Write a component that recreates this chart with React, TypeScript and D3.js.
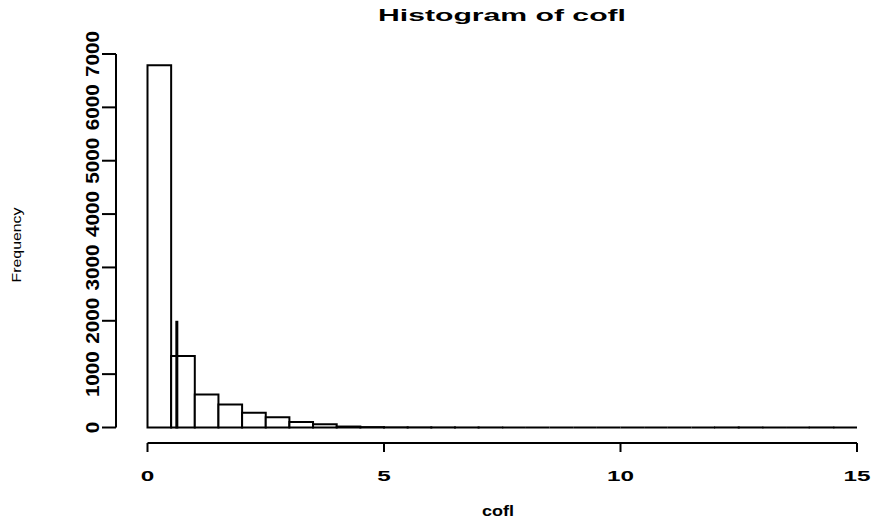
import React from "react";
import * as d3 from "d3";

// Histogram of cofl: bin edges every 0.5 from 0 to 15, counts per bin
const binWidth = 0.5;
const counts = [
  6790, 1340, 620, 430, 275, 190, 105, 62, 18, 8,
  4, 3, 2, 1, 1, 0, 0, 0, 0, 0,
  0, 0, 0, 0, 1, 1, 0, 0, 1, 0,
];
const xTicks = [0, 5, 10, 15];
const yTicks = [0, 1000, 2000, 3000, 4000, 5000, 6000, 7000];
// reference marker drawn over the second bin
const markerX = 0.62;
const markerHeight = 2000;

const title = "Histogram of cofl";
const xLabel = "cofl";
const yLabel = "Frequency";

const W = 874;
const H = 521;
const FONT = "'Liberation Sans', Arial, Helvetica, sans-serif";

export default function App() {
  const x = d3.scaleLinear().domain([0, 15]).range([147.5, 857]);
  const y = d3.scaleLinear().domain([0, 7000]).range([427.5, 54]);
  const axisX = 116;
  const axisY = 443;

  const bins = counts.map((c, i) => ({ x0: i * binWidth, x1: (i + 1) * binWidth, c }));

  // each bar is an outlined path so empty bins still draw along the baseline
  const barPath = (b: { x0: number; x1: number; c: number }) => {
    const p = d3.path();
    p.moveTo(x(b.x0), y(0));
    p.lineTo(x(b.x0), y(b.c));
    p.lineTo(x(b.x1), y(b.c));
    p.lineTo(x(b.x1), y(0));
    p.closePath();
    return p.toString();
  };

  return (
    <svg
      width={W}
      height={H}
      style={{ position: "absolute", left: 0, top: 0, background: "#fff" }}
    >
      <rect x={0} y={0} width={W} height={H} fill="#fff" />

      {/* bars */}
      {bins.map((b, i) => (
        <path
          key={i}
          d={barPath(b)}
          fill="#fff"
          stroke="#000"
          strokeWidth={2}
          strokeLinejoin="miter"
        />
      ))}

      {/* marker line */}
      <line
        x1={x(markerX)}
        x2={x(markerX)}
        y1={y(0) + 1}
        y2={y(markerHeight)}
        stroke="#000"
        strokeWidth={3}
      />

      {/* y axis */}
      <line x1={axisX} x2={axisX} y1={y(0)} y2={y(7000)} stroke="#000" strokeWidth={2} />
      {yTicks.map((t) => (
        <g key={t}>
          <line x1={axisX - 14} x2={axisX} y1={y(t)} y2={y(t)} stroke="#000" strokeWidth={2} />
          <text
            transform={`translate(99,${y(t)}) rotate(-90)`}
            textAnchor="middle"
            fontFamily={FONT}
            fontWeight="bold"
            fontSize={18}
            textLength={11.5 * String(t).length}
            lengthAdjust="spacingAndGlyphs"
          >
            {t}
          </text>
        </g>
      ))}

      {/* x axis */}
      <line x1={x(0)} x2={x(15)} y1={axisY} y2={axisY} stroke="#000" strokeWidth={2} />
      {xTicks.map((t) => (
        <g key={t}>
          <line x1={x(t)} x2={x(t)} y1={axisY} y2={axisY + 9} stroke="#000" strokeWidth={2} />
          <text
            x={x(t)}
            y={481}
            textAnchor="middle"
            fontFamily={FONT}
            fontWeight="bold"
            fontSize={15}
            textLength={13.5 * String(t).length}
            lengthAdjust="spacingAndGlyphs"
          >
            {t}
          </text>
        </g>
      ))}

      {/* labels */}
      <text
        x={502}
        y={21}
        textAnchor="middle"
        fontFamily={FONT}
        fontWeight="bold"
        fontSize={17}
        textLength={248}
        lengthAdjust="spacingAndGlyphs"
      >
        {title}
      </text>
      <text
        x={498}
        y={516}
        textAnchor="middle"
        fontFamily={FONT}
        fontWeight="bold"
        fontSize={14}
        textLength={32}
        lengthAdjust="spacingAndGlyphs"
      >
        {xLabel}
      </text>
      <text
        transform="translate(21,245) rotate(-90)"
        textAnchor="middle"
        fontFamily={FONT}
        fontSize={12}
        textLength={75}
        lengthAdjust="spacingAndGlyphs"
      >
        {yLabel}
      </text>
    </svg>
  );
}
